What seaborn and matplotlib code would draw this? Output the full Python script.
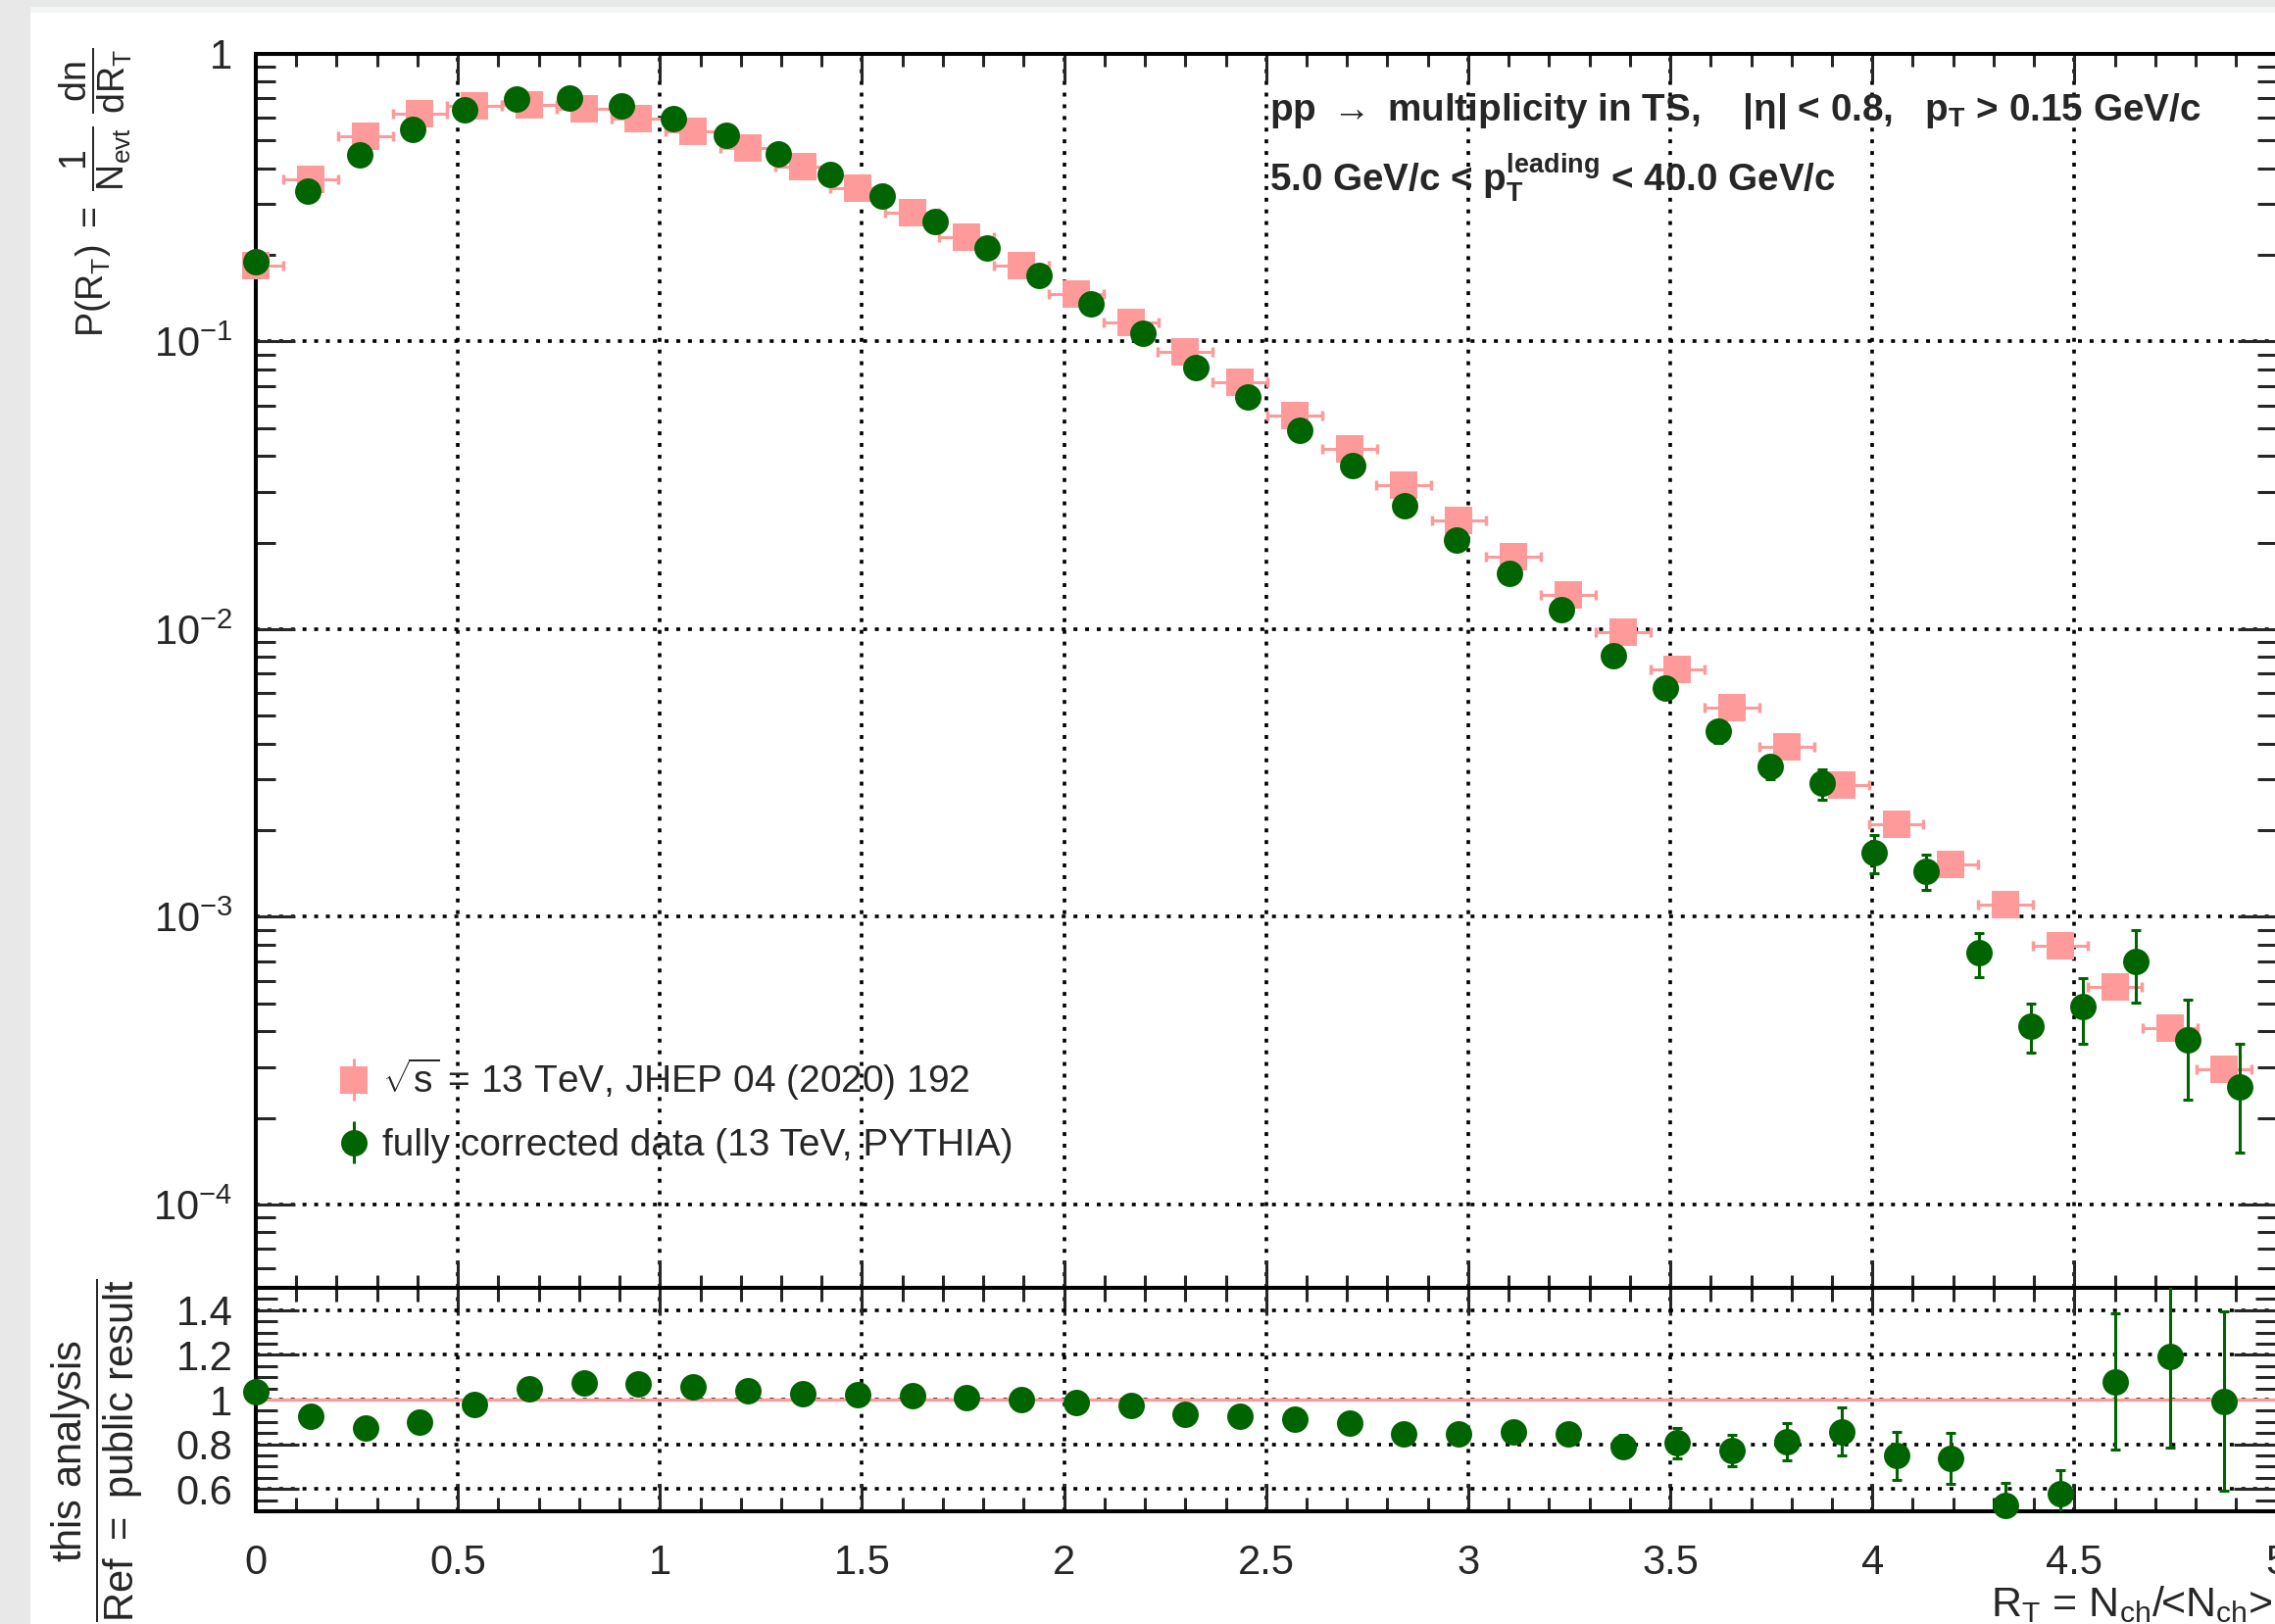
import numpy as np
import matplotlib
matplotlib.use("Agg")
import matplotlib.pyplot as plt
import seaborn as sns
from matplotlib.ticker import FixedLocator, FuncFormatter, MultipleLocator, LogLocator, NullFormatter
from matplotlib.patches import Rectangle
from matplotlib.legend_handler import HandlerErrorbar

# ---------------- data ----------------
rt_ref = [0.000, 0.135, 0.271, 0.406, 0.541, 0.677, 0.812, 0.947, 1.082, 1.218,
          1.353, 1.488, 1.624, 1.759, 1.894, 2.030, 2.165, 2.300, 2.435, 2.571,
          2.706, 2.841, 2.977, 3.112, 3.247, 3.383, 3.518, 3.653, 3.788, 3.924,
          4.059, 4.194, 4.330, 4.465, 4.600, 4.736, 4.871]
p_ref = [0.183, 0.367, 0.519, 0.620, 0.662, 0.665, 0.645, 0.596, 0.538, 0.471,
         0.406, 0.342, 0.281, 0.230, 0.184, 0.1468, 0.1167, 0.0924, 0.0722, 0.0555,
         0.0422, 0.0318, 0.0238, 0.0178, 0.0132, 0.00977, 0.00722, 0.00532, 0.00391, 0.00287,
         0.00210, 0.00152, 0.001105, 0.000794, 0.000569, 0.000410, 0.000294]
rt_ref_halfbin = 0.0676

rt_data = [0.000, 0.129, 0.258, 0.388, 0.517, 0.646, 0.775, 0.904, 1.034, 1.163,
           1.292, 1.421, 1.550, 1.680, 1.809, 1.938, 2.067, 2.196, 2.326, 2.455,
           2.584, 2.713, 2.842, 2.972, 3.101, 3.230, 3.359, 3.488, 3.618, 3.747,
           3.876, 4.005, 4.134, 4.264, 4.393, 4.522, 4.651, 4.780, 4.910]
p_data = [0.189, 0.334, 0.446, 0.545, 0.638, 0.699, 0.705, 0.660, 0.596, 0.523,
          0.449, 0.382, 0.320, 0.262, 0.211, 0.170, 0.135, 0.107, 0.0809, 0.0640,
          0.0490, 0.0370, 0.0268, 0.0204, 0.0156, 0.0117, 0.00808, 0.00623, 0.00442, 0.00332,
          0.00291, 0.00167, 0.00144, 0.000749, 0.000418, 0.000486, 0.000702, 0.000374, 0.000257]
p_data_err = [0.002, 0.003, 0.004, 0.004, 0.005, 0.005, 0.005, 0.005, 0.005, 0.004,
              0.004, 0.003, 0.003, 0.003, 0.002, 0.002, 0.002, 0.0015, 0.0012, 0.001,
              0.0009, 0.0008, 0.0007, 0.0006, 0.0006, 0.0006, 0.0005, 0.0004, 0.0004, 0.0003,
              0.00035, 0.00025, 0.0002, 0.00013, 0.00008, 0.000124, 0.0002, 0.000142, 0.000105]

ratio = [1.034, 0.924, 0.875, 0.900, 0.979, 1.047, 1.075, 1.069, 1.057, 1.040,
         1.028, 1.023, 1.018, 1.009, 0.999, 0.985, 0.975, 0.933, 0.924, 0.914,
         0.896, 0.846, 0.845, 0.855, 0.846, 0.790, 0.805, 0.773, 0.812, 0.856,
         0.748, 0.736, 0.527, 0.578, 1.081, 1.195, 0.993]
ratio_err = [0.01, 0.01, 0.01, 0.01, 0.01, 0.01, 0.01, 0.01, 0.01, 0.01,
             0.01, 0.01, 0.01, 0.012, 0.013, 0.014, 0.015, 0.017, 0.019, 0.021,
             0.024, 0.028, 0.033, 0.037, 0.042, 0.05, 0.069, 0.070, 0.082, 0.107,
             0.108, 0.114, 0.100, 0.105, 0.304, 0.408, 0.400]

x_ticks = [0, 0.5, 1, 1.5, 2, 2.5, 3, 3.5, 4, 4.5, 5]
ratio_ticks = [0.6, 0.8, 1.0, 1.2, 1.4]

label_ref = r"$\sqrt{s}$ = 13 TeV, JHEP 04 (2020) 192"
label_data = "fully corrected data (13 TeV, PYTHIA)"
header1 = r"pp $\rightarrow$ multiplicity in TS,    |η| < 0.8,   p$_{\mathbf{T}}$ > 0.15 GeV/c"
header2 = r"5.0 GeV/c < p$_{\mathbf{T}}^{\mathbf{leading}}$ < 40.0 GeV/c"
ylabel_top = r"$P(R_{T})\ =\ \dfrac{1}{N_{evt}}\ \dfrac{dn}{dR_{T}}$"
ylabel_bot = r"$\dfrac{\mathrm{this\ analysis}}{\mathrm{Ref\ =\ public\ result}}$"
xlabel = r"R$_{T}$ = N$_{ch}$/<N$_{ch}$>"

# ---------------- style ----------------
sns.set_theme(style="white")
plt.rcParams['font.family'] = ['Liberation Sans', 'DejaVu Sans']
plt.rcParams['mathtext.fontset'] = 'custom'
plt.rcParams['mathtext.rm'] = 'Liberation Sans'
plt.rcParams['mathtext.it'] = 'Liberation Sans'
plt.rcParams['mathtext.sf'] = 'Liberation Sans'
plt.rcParams['mathtext.bf'] = 'Liberation Sans:bold'
plt.rcParams['mathtext.default'] = 'rm'

PINK = '#fe9a9a'
GREEN = '#006400'
W, H = 2321, 1657

fig = plt.figure(figsize=(W / 100, H / 100), dpi=100, facecolor='#e8e8e8')
fig.patches.append(Rectangle((31 / W, 0), 1, 1 - 13 / H, transform=fig.transFigure,
                             facecolor='white', edgecolor='none', zorder=-10))
fig.patches.append(Rectangle((31 / W, 1 - 13 / H), 1, 6 / H, transform=fig.transFigure,
                             facecolor='#f3f5f5', edgecolor='none', zorder=-10))

left = 261 / W
width = (2322.5 - 261) / W
top_y0, top_y1 = 1314, 55
bot_y0, bot_y1 = 1542, 1314
ax1 = fig.add_axes([left, 1 - top_y0 / H, width, (top_y0 - top_y1) / H])
ax2 = fig.add_axes([left, 1 - bot_y0 / H, width, (bot_y0 - bot_y1) / H])

grid_kw = dict(color='black', linestyle=(0, (1.1, 2.2)), linewidth=2.6)

for ax in (ax1, ax2):
    ax.set_facecolor('none')
    ax.set_xlim(0, 5)
    for sp in ax.spines.values():
        sp.set_color('black')
        sp.set_linewidth(2.9)
        sp.set_visible(True)
    ax.set_axisbelow(True)
    ax.xaxis.set_major_locator(FixedLocator(x_ticks))
    ax.xaxis.set_minor_locator(MultipleLocator(0.1))
    ax.grid(True, which='major', **grid_kw)

# ---------------- top panel ----------------
ax1.set_yscale('log')
ax1.set_ylim(5.13e-5, 1.0)
ax1.yaxis.set_major_locator(LogLocator(base=10, numticks=10))
ax1.yaxis.set_minor_locator(LogLocator(base=10, subs=np.arange(2, 10), numticks=20))
ax1.yaxis.set_minor_formatter(NullFormatter())


def logfmt(v, pos):
    if abs(v - 1) < 1e-9:
        return '1'
    return r'$10^{%d}$' % int(round(np.log10(v)))


ax1.yaxis.set_major_formatter(FuncFormatter(logfmt))
ax1.tick_params(axis='x', which='both', direction='in', top=True, bottom=True,
                labelbottom=False, width=2.2)
ax1.tick_params(axis='x', which='major', length=20)
ax1.tick_params(axis='x', which='minor', length=9.4)
ax1.tick_params(axis='y', which='both', direction='in', left=True, right=True,
                width=2.2, labelsize=30, pad=17)
ax1.tick_params(axis='y', which='major', length=29)
ax1.tick_params(axis='y', which='minor', length=14.4)

ax1.errorbar(rt_ref, p_ref, xerr=rt_ref_halfbin, fmt='none', ecolor=PINK,
             elinewidth=2.2, capsize=3.6, capthick=2.5, zorder=2.5)
sns.scatterplot(x=rt_ref, y=p_ref, ax=ax1, marker='s', s=400, color=PINK,
                linewidth=0, zorder=3, clip_on=False, legend=False)
ax1.errorbar(rt_data, p_data, yerr=p_data_err, fmt='none', ecolor=GREEN,
             elinewidth=2.2, capsize=3.4, capthick=2.2, zorder=3.5)
sns.scatterplot(x=rt_data, y=p_data, ax=ax1, marker='o', s=376, color=GREEN,
                linewidth=0, zorder=4, clip_on=False, legend=False)
ax1.set_xlabel('')
ax1.set_ylabel('')

# legend proxies
h_ref = ax1.errorbar([np.nan], [np.nan], yerr=[np.nan], fmt='s', ms=20, mew=0,
                     color=PINK, ecolor=PINK, elinewidth=2.2, capsize=3.6, capthick=2.5)
h_dat = ax1.errorbar([np.nan], [np.nan], yerr=[np.nan], fmt='o', ms=19.4, mew=0,
                     color=GREEN, ecolor=GREEN, elinewidth=2.2, capsize=3.4, capthick=2.2)
leg = ax1.legend([h_ref, h_dat], [label_ref, label_data], loc='center left',
                 bbox_to_anchor=(342 / W, 1 - 1132.5 / H), bbox_transform=fig.transFigure,
                 frameon=False, fontsize=28, handlelength=1.0, handletextpad=0.23,
                 borderpad=0, borderaxespad=0, labelspacing=0.67, numpoints=1,
                 handler_map={type(h_ref): HandlerErrorbar(xerr_size=0.55, yerr_size=0.55)})

# header text
fig.text(1295 / W, 1 - 123 / H, header1, fontsize=27.8, fontweight='bold',
         ha='left', va='baseline')
fig.text(1295 / W, 1 - 195 / H, header2, fontsize=27.8, fontweight='bold',
         ha='left', va='baseline')

fig.text(98 / W, 1 - 48 / H, ylabel_top, fontsize=27, rotation=90,
         ha='center', va='top')

# ---------------- ratio panel ----------------
ax2.set_ylim(0.5, 1.5)
ax2.yaxis.set_major_locator(FixedLocator(ratio_ticks))
ax2.yaxis.set_minor_locator(MultipleLocator(0.05))
ax2.yaxis.set_major_formatter(FuncFormatter(lambda v, p: '%g' % round(v, 2)))
ax2.xaxis.set_major_formatter(FuncFormatter(lambda v, p: '%g' % v))
ax2.tick_params(axis='x', which='both', direction='in', top=True, bottom=True,
                width=2.2, labelsize=30, pad=24)
ax2.tick_params(axis='x', which='major', length=20)
ax2.tick_params(axis='x', which='minor', length=10)
ax2.tick_params(axis='y', which='both', direction='in', left=True, right=True,
                width=2.2, labelsize=30, pad=17)
ax2.tick_params(axis='y', which='major', length=32)
ax2.tick_params(axis='y', which='minor', length=16)

ax2.axhline(1.0, color=PINK, linewidth=2.4, zorder=2)
ax2.errorbar(rt_ref, ratio, yerr=ratio_err, fmt='none', ecolor=GREEN,
             elinewidth=2.2, capsize=3.4, capthick=2.2, zorder=3.5)
sns.scatterplot(x=rt_ref, y=ratio, ax=ax2, marker='o', s=376, color=GREEN,
                linewidth=0, zorder=4, clip_on=False, legend=False)
ax2.set_xlabel('')
ax2.set_ylabel('')

fig.text(99 / W, 1 - 1480 / H, ylabel_bot, fontsize=30, rotation=90,
         ha='center', va='center')
fig.text(2031 / W, 1 - 1637 / H, xlabel, fontsize=31, ha='left', va='center')

fig.savefig('out.png', dpi=100, facecolor=fig.get_facecolor())
